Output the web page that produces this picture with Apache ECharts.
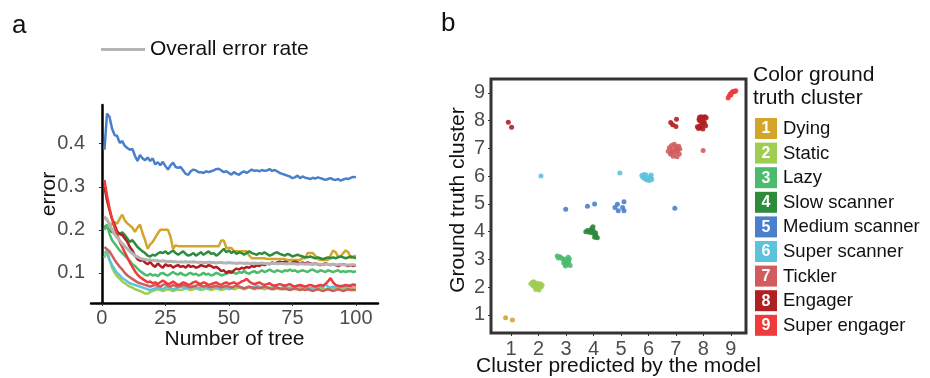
<!DOCTYPE html>
<html>
<head>
<meta charset="utf-8">
<script src="https://cdn.jsdelivr.net/npm/echarts@6/dist/echarts.min.js"></script>
<style>
  html, body { margin: 0; background: #fff; }
  #main { width: 930px; height: 378px; }
</style>
</head>
<body>
<div id="main"></div>
<script>
// ---- panel a: error vs number of trees ----
const treeTicks = [0, 25, 50, 75, 100];
const errorTicks = [0.1, 0.2, 0.3, 0.4];

const errMedium = [
  0.386, 0.470, 0.462, 0.435, 0.420, 0.418, 0.402, 0.406, 0.395, 0.390,
  0.386, 0.388, 0.372, 0.360, 0.374, 0.366, 0.362, 0.368, 0.360, 0.366,
  0.352, 0.357, 0.350, 0.358, 0.348, 0.340, 0.350, 0.356, 0.346, 0.344,
  0.346, 0.338, 0.330, 0.328, 0.336, 0.340, 0.338, 0.334, 0.334, 0.332,
  0.336, 0.334, 0.336, 0.338, 0.341, 0.342, 0.338, 0.334, 0.336, 0.332,
  0.328, 0.334, 0.330, 0.328, 0.333, 0.336, 0.332, 0.336, 0.340, 0.337,
  0.338, 0.336, 0.339, 0.337, 0.338, 0.341, 0.337, 0.339, 0.336, 0.332,
  0.330, 0.328, 0.326, 0.324, 0.320, 0.322, 0.326, 0.320, 0.324, 0.321,
  0.320, 0.318, 0.321, 0.319, 0.322, 0.320, 0.318, 0.316, 0.318, 0.320,
  0.317, 0.316, 0.318, 0.314, 0.317, 0.319, 0.318, 0.321, 0.323, 0.322
];
const errDying = [
  0.231, 0.222, 0.215, 0.212, 0.218, 0.214, 0.226, 0.235, 0.222, 0.215,
  0.210, 0.205, 0.195, 0.205, 0.212, 0.192, 0.176, 0.156, 0.166, 0.172,
  0.182, 0.192, 0.200, 0.200, 0.200, 0.200, 0.184, 0.156, 0.164, 0.162,
  0.162, 0.162, 0.162, 0.162, 0.162, 0.162, 0.162, 0.162, 0.162, 0.162,
  0.162, 0.162, 0.162, 0.162, 0.162, 0.162, 0.175, 0.175, 0.158, 0.158,
  0.158, 0.150, 0.150, 0.150, 0.150, 0.150, 0.150, 0.140, 0.134, 0.134,
  0.134, 0.134, 0.134, 0.134, 0.132, 0.132, 0.132, 0.132, 0.132, 0.132,
  0.132, 0.132, 0.130, 0.130, 0.130, 0.130, 0.130, 0.130, 0.134, 0.134,
  0.146, 0.146, 0.146, 0.140, 0.132, 0.130, 0.130, 0.130, 0.130, 0.140,
  0.152, 0.148, 0.138, 0.138, 0.146, 0.152, 0.148, 0.134, 0.138, 0.140
];
const errSlow = [
  0.210, 0.205, 0.200, 0.195, 0.192, 0.196, 0.190, 0.194, 0.188, 0.180,
  0.172, 0.176, 0.168, 0.160, 0.155, 0.150, 0.146, 0.140, 0.138, 0.142,
  0.140, 0.145, 0.148, 0.146, 0.150, 0.144, 0.148, 0.152, 0.146, 0.142,
  0.146, 0.150, 0.144, 0.140, 0.142, 0.146, 0.140, 0.144, 0.148, 0.142,
  0.146, 0.150, 0.144, 0.146, 0.140, 0.144, 0.150, 0.156, 0.148, 0.152,
  0.146, 0.150, 0.144, 0.148, 0.146, 0.142, 0.146, 0.150, 0.146, 0.144,
  0.142, 0.146, 0.144, 0.148, 0.144, 0.140, 0.142, 0.146, 0.148, 0.144,
  0.142, 0.140, 0.144, 0.142, 0.138, 0.140, 0.142, 0.140, 0.138, 0.136,
  0.136, 0.138, 0.136, 0.134, 0.136, 0.134, 0.132, 0.134, 0.136, 0.134,
  0.136, 0.134, 0.136, 0.138, 0.136, 0.134, 0.136, 0.138, 0.136, 0.134
];
const errEngager = [
  0.300, 0.268, 0.245, 0.225, 0.212, 0.196, 0.190, 0.188, 0.180, 0.172,
  0.160, 0.152, 0.140, 0.132, 0.128, 0.130, 0.124, 0.120, 0.126, 0.118,
  0.114, 0.122, 0.116, 0.112, 0.120, 0.116, 0.118, 0.112, 0.116, 0.118,
  0.114, 0.116, 0.112, 0.118, 0.114, 0.116, 0.112, 0.114, 0.118, 0.116,
  0.114, 0.118, 0.116, 0.112, 0.114, 0.110, 0.104, 0.106, 0.100, 0.104,
  0.100, 0.106, 0.110, 0.108, 0.112, 0.110, 0.114, 0.112, 0.116, 0.114,
  0.118, 0.116, 0.120, 0.118, 0.122, 0.120, 0.124, 0.122, 0.124, 0.126,
  0.124, 0.126, 0.124, 0.122, 0.124, 0.126, 0.124, 0.122, 0.124, 0.122,
  0.124, 0.122, 0.120, 0.122, 0.120, 0.118, 0.120, 0.122, 0.120, 0.118,
  0.120, 0.118, 0.116, 0.118, 0.120, 0.118, 0.116, 0.118, 0.116, 0.118
];
const errLazy = [
  0.200, 0.212, 0.190, 0.176, 0.168, 0.160, 0.152, 0.146, 0.140, 0.134,
  0.128, 0.120, 0.116, 0.110, 0.104, 0.100, 0.096, 0.094, 0.098, 0.094,
  0.096, 0.092, 0.098, 0.100, 0.096, 0.094, 0.098, 0.102, 0.098, 0.096,
  0.100, 0.096, 0.094, 0.098, 0.100, 0.096, 0.098, 0.094, 0.096, 0.100,
  0.096, 0.098, 0.094, 0.096, 0.100, 0.098, 0.094, 0.096, 0.098, 0.100,
  0.104, 0.100, 0.098, 0.102, 0.100, 0.104, 0.100, 0.098, 0.102, 0.104,
  0.100, 0.102, 0.106, 0.102, 0.104, 0.108, 0.104, 0.102, 0.106, 0.104,
  0.102, 0.106, 0.104, 0.108, 0.104, 0.106, 0.102, 0.104, 0.106, 0.104,
  0.102, 0.106, 0.108, 0.104, 0.102, 0.106, 0.104, 0.102, 0.106, 0.104,
  0.102, 0.104, 0.106, 0.102, 0.104, 0.102, 0.104, 0.104, 0.102, 0.104
];
const errStatic = [
  0.135, 0.155, 0.130, 0.112, 0.100, 0.092, 0.086, 0.080, 0.076, 0.072,
  0.068, 0.066, 0.062, 0.060, 0.058, 0.055, 0.052, 0.052, 0.055, 0.058,
  0.060, 0.062, 0.060, 0.058, 0.060, 0.062, 0.060, 0.058, 0.060, 0.062,
  0.060, 0.062, 0.064, 0.062, 0.060, 0.062, 0.064, 0.062, 0.060, 0.062,
  0.064, 0.062, 0.060, 0.062, 0.064, 0.062, 0.060, 0.062, 0.064, 0.062,
  0.064, 0.062, 0.064, 0.066, 0.064, 0.062, 0.064, 0.066, 0.064, 0.062,
  0.064, 0.066, 0.064, 0.062, 0.064, 0.066, 0.064, 0.062, 0.064, 0.062,
  0.064, 0.062, 0.064, 0.066, 0.064, 0.062, 0.064, 0.062, 0.064, 0.066,
  0.064, 0.062, 0.064, 0.062, 0.064, 0.066, 0.064, 0.062, 0.064, 0.062,
  0.064, 0.066, 0.064, 0.062, 0.064, 0.062, 0.064, 0.066, 0.064, 0.064
];
const errSuperScanner = [
  0.150, 0.145, 0.130, 0.118, 0.108, 0.100, 0.094, 0.088, 0.084, 0.080,
  0.076, 0.074, 0.072, 0.070, 0.068, 0.066, 0.064, 0.062, 0.060, 0.062,
  0.064, 0.066, 0.064, 0.062, 0.066, 0.068, 0.064, 0.062, 0.064, 0.066,
  0.068, 0.066, 0.064, 0.066, 0.068, 0.070, 0.066, 0.064, 0.066, 0.068,
  0.066, 0.064, 0.068, 0.070, 0.066, 0.064, 0.066, 0.068, 0.066, 0.064,
  0.066, 0.068, 0.070, 0.068, 0.066, 0.064, 0.066, 0.068, 0.066, 0.068,
  0.070, 0.068, 0.066, 0.068, 0.066, 0.064, 0.066, 0.068, 0.066, 0.064,
  0.066, 0.068, 0.066, 0.064, 0.066, 0.068, 0.070, 0.068, 0.066, 0.068,
  0.066, 0.064, 0.066, 0.068, 0.066, 0.068, 0.066, 0.074, 0.068, 0.066,
  0.068, 0.066, 0.068, 0.070, 0.068, 0.066, 0.070, 0.072, 0.074, 0.072
];
const errTickler = [
  0.160, 0.155, 0.150, 0.140, 0.130, 0.122, 0.114, 0.108, 0.100, 0.094,
  0.090, 0.086, 0.082, 0.078, 0.076, 0.074, 0.072, 0.070, 0.068, 0.070,
  0.072, 0.070, 0.068, 0.072, 0.074, 0.070, 0.068, 0.072, 0.070, 0.068,
  0.070, 0.072, 0.070, 0.068, 0.066, 0.068, 0.070, 0.072, 0.070, 0.068,
  0.070, 0.068, 0.066, 0.068, 0.070, 0.068, 0.066, 0.068, 0.070, 0.068,
  0.066, 0.068, 0.070, 0.068, 0.066, 0.064, 0.066, 0.068, 0.066, 0.064,
  0.066, 0.064, 0.066, 0.068, 0.066, 0.064, 0.062, 0.064, 0.066, 0.064,
  0.062, 0.064, 0.062, 0.060, 0.062, 0.064, 0.062, 0.060, 0.062, 0.060,
  0.062, 0.060, 0.058, 0.060, 0.062, 0.060, 0.058, 0.060, 0.062, 0.060,
  0.058, 0.060, 0.062, 0.060, 0.058, 0.060, 0.062, 0.060, 0.060, 0.060
];
const errSuperEngager = [
  0.316, 0.280, 0.250, 0.225, 0.205, 0.188, 0.172, 0.160, 0.148, 0.136,
  0.124, 0.114, 0.104, 0.096, 0.090, 0.086, 0.082, 0.078, 0.080, 0.076,
  0.078, 0.074, 0.078, 0.082, 0.078, 0.074, 0.076, 0.080, 0.076, 0.072,
  0.074, 0.078, 0.076, 0.072, 0.074, 0.078, 0.080, 0.076, 0.074, 0.078,
  0.076, 0.072, 0.074, 0.076, 0.078, 0.074, 0.072, 0.076, 0.078, 0.074,
  0.076, 0.078, 0.074, 0.076, 0.080, 0.082, 0.086, 0.080, 0.076, 0.074,
  0.076, 0.078, 0.074, 0.072, 0.074, 0.076, 0.072, 0.070, 0.072, 0.074,
  0.072, 0.070, 0.072, 0.074, 0.070, 0.068, 0.070, 0.072, 0.070, 0.068,
  0.070, 0.072, 0.070, 0.068, 0.070, 0.072, 0.070, 0.074, 0.080, 0.088,
  0.078, 0.072, 0.070, 0.068, 0.070, 0.072, 0.070, 0.070, 0.072, 0.070
];
const errOverall = [
  0.228, 0.224, 0.212, 0.200, 0.190, 0.182, 0.175, 0.168, 0.162, 0.156,
  0.150, 0.145, 0.140, 0.137, 0.134, 0.132, 0.131, 0.130, 0.130, 0.129,
  0.128, 0.128, 0.127, 0.128, 0.127, 0.126, 0.127, 0.126, 0.126, 0.125,
  0.126, 0.125, 0.126, 0.125, 0.125, 0.126, 0.125, 0.124, 0.125, 0.124,
  0.124, 0.125, 0.124, 0.124, 0.123, 0.124, 0.124, 0.123, 0.123, 0.124,
  0.123, 0.123, 0.122, 0.123, 0.123, 0.122, 0.123, 0.122, 0.122, 0.123,
  0.122, 0.122, 0.123, 0.122, 0.122, 0.121, 0.122, 0.122, 0.121, 0.122,
  0.122, 0.121, 0.121, 0.122, 0.121, 0.121, 0.120, 0.121, 0.121, 0.120,
  0.121, 0.120, 0.120, 0.121, 0.120, 0.120, 0.119, 0.120, 0.120, 0.119,
  0.120, 0.119, 0.119, 0.120, 0.119, 0.119, 0.118, 0.119, 0.119, 0.118
];

// ---- panel b: predicted vs ground truth cluster ----
const clusterTicks = [1, 2, 3, 4, 5, 6, 7, 8, 9];
const clusterNames = ["Dying", "Static", "Lazy", "Slow scanner", "Medium scanner",
  "Super scanner", "Tickler", "Engager", "Super engager"];
const clusterColors = ["#d4a52b", "#9fcd52", "#4cbb6e", "#2e8b3c", "#4a7fcb",
  "#5cc3dc", "#d05c5e", "#b01f22", "#ee3b3b"];

// [predicted, truth] pairs, jittered as in the figure
const ptsDying = [[0.80, 0.90], [1.05, 0.82]];
const ptsStatic = [[1.72, 2.12], [1.78, 2.18], [1.80, 2.05], [1.85, 2.10], [1.88, 1.98],
  [1.92, 2.04], [1.95, 2.14], [1.98, 1.95], [2.00, 2.06], [2.04, 2.00], [2.06, 2.12],
  [2.10, 2.02], [2.13, 2.08], [1.90, 1.92], [2.02, 1.90], [1.83, 2.20]];
const ptsLazy = [[2.68, 3.12], [2.72, 3.05], [2.78, 3.10], [2.85, 3.04], [2.90, 3.00],
  [2.95, 2.92], [3.00, 3.02], [3.02, 2.82], [3.06, 2.95], [3.10, 2.88], [3.12, 3.02],
  [3.15, 2.78], [2.98, 2.76], [3.08, 3.08], [2.92, 2.86]];
const ptsSlow = [[3.72, 4.00], [3.78, 4.04], [3.84, 3.98], [3.90, 4.06], [3.95, 4.12],
  [3.98, 4.18], [4.00, 4.02], [4.02, 3.94], [4.06, 3.88], [4.10, 3.82], [4.14, 3.78],
  [4.04, 3.80], [3.94, 3.96], [4.08, 3.95], [3.86, 4.02]];
const ptsMedium = [[2.99, 4.81], [3.78, 4.92], [4.04, 5.00], [4.78, 4.87], [4.87, 4.99],
  [4.90, 4.75], [5.06, 4.87], [5.11, 5.08], [5.11, 4.75], [6.96, 4.84]];
const ptsSuperScanner = [[2.09, 6.01], [4.96, 6.11], [5.76, 6.02], [5.80, 5.95],
  [5.84, 6.06], [5.88, 5.90], [5.95, 5.86], [6.00, 5.92], [6.04, 5.84], [6.08, 5.96],
  [6.10, 6.04], [6.12, 5.88], [5.92, 6.04]];
const ptsTickler = [[6.72, 6.90], [6.76, 7.02], [6.80, 6.80], [6.84, 7.10], [6.88, 6.95],
  [6.90, 6.72], [6.94, 7.15], [6.98, 6.85], [7.00, 7.05], [7.04, 6.70], [7.06, 6.92],
  [7.10, 7.08], [7.12, 6.80], [7.14, 6.98], [6.86, 6.86], [7.02, 6.96], [7.99, 6.92]];
const ptsEngager = [[0.90, 7.94], [1.02, 7.76], [6.81, 7.93], [6.88, 7.85], [7.02, 8.05],
  [7.00, 7.79], [7.78, 7.78], [7.82, 7.72], [7.86, 7.80], [7.90, 7.74], [7.94, 7.84],
  [7.96, 7.94], [7.88, 7.98], [7.84, 8.04], [7.86, 8.12], [7.92, 8.14], [8.00, 8.12],
  [8.06, 8.14], [8.10, 8.10], [8.04, 7.90], [8.08, 7.82], [7.98, 7.70], [8.02, 8.00]];
const ptsSuperEngager = [[8.90, 8.82], [8.94, 8.90], [8.98, 8.96], [9.02, 9.00],
  [9.06, 9.04], [9.10, 9.06], [9.14, 9.05], [9.18, 9.08], [9.00, 8.92]];

const errSeries = [
  ["Dying", errDying, 0], ["Slow scanner", errSlow, 3], ["Lazy", errLazy, 2],
  ["Static", errStatic, 1], ["Super scanner", errSuperScanner, 5],
  ["Tickler", errTickler, 6], ["Engager", errEngager, 7],
  ["Super engager", errSuperEngager, 8], ["Medium scanner", errMedium, 4]
];
const clusterPts = [ptsDying, ptsStatic, ptsLazy, ptsSlow, ptsMedium,
  ptsSuperScanner, ptsTickler, ptsEngager, ptsSuperEngager];

const FONT = "Liberation Sans";
const tickGray = "#4d4d4d";

const chart = echarts.init(document.getElementById("main"));

const series = [];
errSeries.forEach(([name, vals, ci]) => {
  series.push({
    name: name,
    type: "line",
    xAxisIndex: 0, yAxisIndex: 0,
    showSymbol: false,
    data: vals.map((v, i) => [i + 1, v]),
    lineStyle: { color: clusterColors[ci], width: 2.5 },
    itemStyle: { color: clusterColors[ci] },
    silent: true
  });
});
series.push({
  name: "Overall error rate",
  type: "line",
  xAxisIndex: 0, yAxisIndex: 0,
  showSymbol: false,
  data: errOverall.map((v, i) => [i + 1, v]),
  lineStyle: { color: "#b4b4b4", width: 3 },
  itemStyle: { color: "#b4b4b4" },
  z: 3
});
clusterPts.forEach((pts, ci) => {
  series.push({
    name: clusterNames[ci],
    type: "scatter",
    xAxisIndex: 1, yAxisIndex: 1,
    symbolSize: 5,
    data: pts,
    itemStyle: { color: clusterColors[ci], opacity: 0.9 }
  });
});

// legend for panel b (numbered colour boxes)
const legendItems = [];
clusterNames.forEach((name, i) => {
  const y = 118 + i * 24.6;
  legendItems.push({
    type: "rect",
    shape: { x: 755, y: y, width: 22, height: 21 },
    style: { fill: clusterColors[i] }
  });
  legendItems.push({
    type: "text",
    x: 766, y: y + 11,
    style: { text: String(clusterTicks[i]), fill: "#fff", font: "bold 16px " + FONT,
      align: "center", verticalAlign: "middle" }
  });
  legendItems.push({
    type: "text",
    x: 783, y: y + 11,
    style: { text: name, fill: "#111", font: "18.5px " + FONT, verticalAlign: "middle" }
  });
});

const option = {
  animation: false,
  textStyle: { fontFamily: FONT },
  legend: {
    data: ["Overall error rate"],
    left: 101, top: 39, padding: 0,
    icon: "rect",
    itemWidth: 44, itemHeight: 3, itemGap: 5,
    textStyle: { fontSize: 21, color: "#111", fontFamily: FONT },
    selectedMode: false
  },
  grid: [
    { left: 91, top: 105, width: 287, height: 198, outerBoundsMode: "none" },
    { left: 491, top: 79, width: 255, height: 254, outerBoundsMode: "none",
      show: true, borderColor: "#333", borderWidth: 3 }
  ],
  xAxis: [
    {
      gridIndex: 0, type: "value", min: -4.3, max: 108.7,
      name: "Number of tree", nameLocation: "middle", nameGap: 25.5, nameMoveOverlap: false,
      nameTextStyle: { fontSize: 21, color: "#111" },
      axisLine: { show: true, lineStyle: { color: "#000", width: 2.5 } },
      axisTick: { show: true, length: 3, customValues: treeTicks, lineStyle: { color: "#333" } },
      axisLabel: { customValues: treeTicks, fontSize: 20, color: tickGray, margin: 5 },
      splitLine: { show: false }
    },
    {
      gridIndex: 1, type: "value", min: 0.27, max: 9.55,
      name: "Cluster predicted by the model", nameLocation: "middle", nameGap: 23,
      nameMoveOverlap: false,
      nameTextStyle: { fontSize: 21, color: "#111" },
      axisLine: { show: false },
      axisTick: { show: true, length: 3, customValues: clusterTicks, lineStyle: { color: "#333" } },
      axisLabel: { customValues: clusterTicks, fontSize: 20, color: tickGray, margin: 6 },
      splitLine: { show: false }
    }
  ],
  yAxis: [
    {
      gridIndex: 0, type: "value", min: 0.03, max: 0.49,
      name: "error", nameLocation: "middle", nameGap: 31, nameMoveOverlap: false,
      nameTextStyle: { fontSize: 21, color: "#111", padding: [0, 0, 0, 20] },
      axisLine: { show: true, lineStyle: { color: "#000", width: 2.5 } },
      axisTick: { show: true, length: 3, customValues: errorTicks, lineStyle: { color: "#333" } },
      axisLabel: { customValues: errorTicks, fontSize: 20, color: tickGray, margin: 6,
        formatter: v => v.toFixed(1) },
      splitLine: { show: false }
    },
    {
      gridIndex: 1, type: "value", min: 0.35, max: 9.5,
      name: "Ground truth cluster", nameLocation: "middle", nameGap: 22, nameMoveOverlap: false,
      nameTextStyle: { fontSize: 21, color: "#111", padding: [0, 0, 0, 12] },
      axisLine: { show: false },
      axisTick: { show: true, length: 3, customValues: clusterTicks, lineStyle: { color: "#333" } },
      axisLabel: { customValues: clusterTicks, fontSize: 20, color: tickGray, margin: 6 },
      splitLine: { show: false }
    }
  ],
  graphic: [
    { type: "text", x: 12, y: 13, style: { text: "a", font: "26px " + FONT, fill: "#111" } },
    { type: "text", x: 441, y: 11, style: { text: "b", font: "26px " + FONT, fill: "#111" } },
    { type: "text", x: 753, y: 64, style: { text: "Color ground\ntruth cluster",
      font: "21px " + FONT, fill: "#111", lineHeight: 23 } },
    { type: "group", children: legendItems }
  ],
  series: series
};

chart.setOption(option);
</script>
</body>
</html>
